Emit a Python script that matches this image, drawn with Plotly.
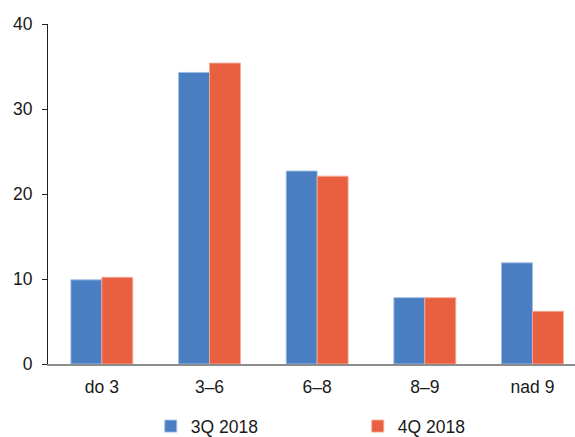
import plotly.graph_objects as go

# Distribution by range, share in percent
categories = ["do 3", "3–6", "6–8", "8–9", "nad 9"]
q3_2018 = [9.9, 34.3, 22.7, 7.8, 11.9]
q4_2018 = [10.2, 35.4, 22.1, 7.8, 6.2]
y_ticks = [0, 10, 20, 30, 40]

BLUE = "#4A7EC2"
ORANGE = "#E86040"
FONT = "Liberation Sans, Arial, sans-serif"
FS = 17.5

fig = go.Figure()
fig.add_trace(go.Bar(
    x=categories, y=q3_2018, name="3Q 2018",
    marker=dict(color=BLUE, line=dict(color="rgba(160,190,230,0.9)", width=1)),
))
fig.add_trace(go.Bar(
    x=categories, y=q4_2018, name="4Q 2018",
    marker=dict(color=ORANGE, line=dict(color="rgba(245,170,150,0.9)", width=1)),
))

fig.update_layout(
    width=575, height=437,
    margin=dict(l=48, r=0, t=24, b=73, autoexpand=False),
    paper_bgcolor="white", plot_bgcolor="white",
    font=dict(family=FONT, size=FS, color="#1a1a1a"),
    barmode="group", bargap=0.425, bargroupgap=0,
    showlegend=True,
    legend=dict(
        orientation="h", x=0.195, y=-0.183, xanchor="left", yanchor="middle",
        entrywidth=162, font=dict(size=FS), itemwidth=30,
        traceorder="normal", borderwidth=0,
        bgcolor="rgba(0,0,0,0)",
    ),
)
fig.update_xaxes(
    range=[-0.5, 4.395], showgrid=False, showline=True, linecolor="#8c8c8c",
    linewidth=1.5, ticks="", tickfont=dict(size=FS), ticklabelstandoff=6,
)
fig.update_yaxes(
    range=[0, 40], tickvals=y_ticks, showgrid=False, zeroline=False,
    showline=True, linecolor="#222222", linewidth=1,
    ticks="outside", ticklen=5, tickcolor="#222222", tickfont=dict(size=FS),
    ticklabelstandoff=6,
)

fig.write_html("out.html")
